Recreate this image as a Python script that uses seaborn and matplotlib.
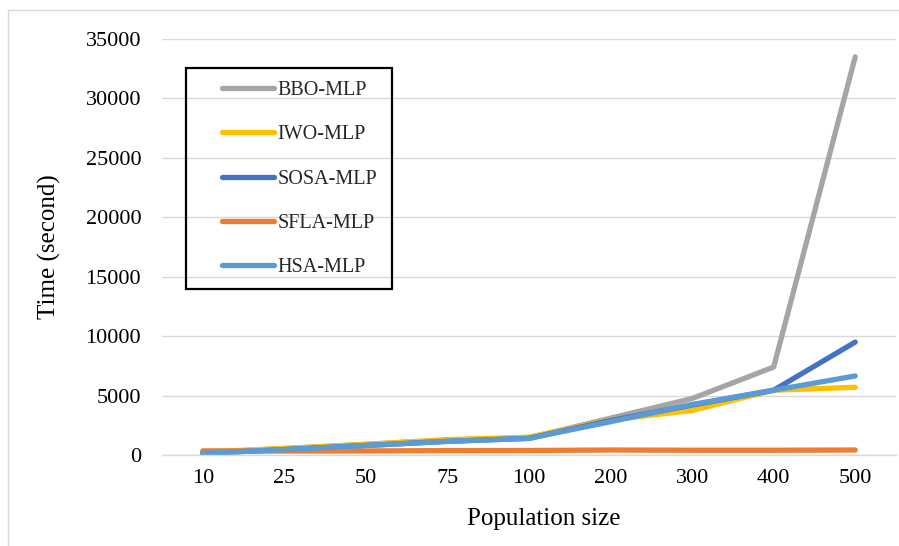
import matplotlib
matplotlib.use("Agg")
import matplotlib.pyplot as plt
from matplotlib.patches import Rectangle
from matplotlib.lines import Line2D
import seaborn as sns
import pandas as pd

categories = ["10", "25", "50", "75", "100", "200", "300", "400", "500"]
bbo = [200, 550, 900, 1250, 1450, 3100, 4750, 7400, 33500]
iwo = [250, 550, 900, 1300, 1500, 2950, 3750, 5450, 5700]
sosa = [150, 450, 800, 1150, 1400, 2900, 4200, 5450, 9500]
sfla = [350, 330, 340, 370, 380, 420, 400, 400, 420]
hsa = [150, 450, 800, 1150, 1400, 2800, 4250, 5450, 6650]

series_names = ["BBO-MLP", "IWO-MLP", "SOSA-MLP", "SFLA-MLP", "HSA-MLP"]
series_values = [bbo, iwo, sosa, sfla, hsa]
colors = ["#A5A5A5", "#FFC000", "#4472C4", "#ED7D31", "#5B9BD5"]

rows = []
for name, vals in zip(series_names, series_values):
    for c, v in zip(categories, vals):
        rows.append({"Population size": c, "Time": v, "Model": name})
df = pd.DataFrame(rows)

sns.set_theme(style="white")
plt.rcParams["font.family"] = ["Liberation Serif", "DejaVu Serif"]

fig = plt.figure(figsize=(8.99, 5.46), dpi=100)
W, H = 899, 546
ax = fig.add_axes([162 / W, 1 - 455 / H, (896 - 162) / W, (455 - 39) / H])

# outer chart border
fig.patches.append(Rectangle((8 / W, -0.1), 1.2, 1.1 - 10 / H, transform=fig.transFigure,
                             fill=False, edgecolor="#D9D9D9", linewidth=1.0))

sns.lineplot(data=df, x="Population size", y="Time", hue="Model", hue_order=series_names,
             palette=colors, sort=False, linewidth=3.8, ax=ax, legend=False,
             solid_capstyle="round", solid_joinstyle="round")

ax.set_xlim(-0.5, 8.5)
ax.set_ylim(0, 35000)
ax.set_yticks(range(0, 35001, 5000))
ax.grid(axis="y", color="#D9D9D9", linewidth=1.0)
ax.grid(axis="x", visible=False)
ax.set_axisbelow(True)
for s in ["top", "right", "left"]:
    ax.spines[s].set_visible(False)
ax.spines["bottom"].set_color("#D9D9D9")
ax.spines["bottom"].set_linewidth(1.0)
ax.tick_params(axis="both", length=0, labelsize=16, colors="black")
ax.tick_params(axis="y", pad=15)
ax.tick_params(axis="x", pad=10)

ax.set_xlabel("Population size", fontsize=18, color="black")
ax.set_ylabel("Time (second)", fontsize=18, color="black")
ax.xaxis.set_label_coords(0.52, -0.127)
ax.yaxis.set_label_coords(-0.137, 0.5)

# legend with frame
handles = [Line2D([0], [0], color=c, linewidth=3.8, solid_capstyle="round") for c in colors]
leg = fig.legend(handles, series_names, loc="upper left",
                 bbox_to_anchor=(222 / W, 1 - 81 / H), frameon=False,
                 fontsize=14.5, handlelength=2.6, handletextpad=0.15,
                 labelspacing=1.25, borderpad=0, borderaxespad=0)
fig.patches.append(Rectangle((186 / W, 1 - 289 / H), (392 - 186) / W, (289 - 68) / H,
                             transform=fig.transFigure, fill=False, edgecolor="black",
                             linewidth=1.6, zorder=5))

fig.savefig("out.png", dpi=100)
